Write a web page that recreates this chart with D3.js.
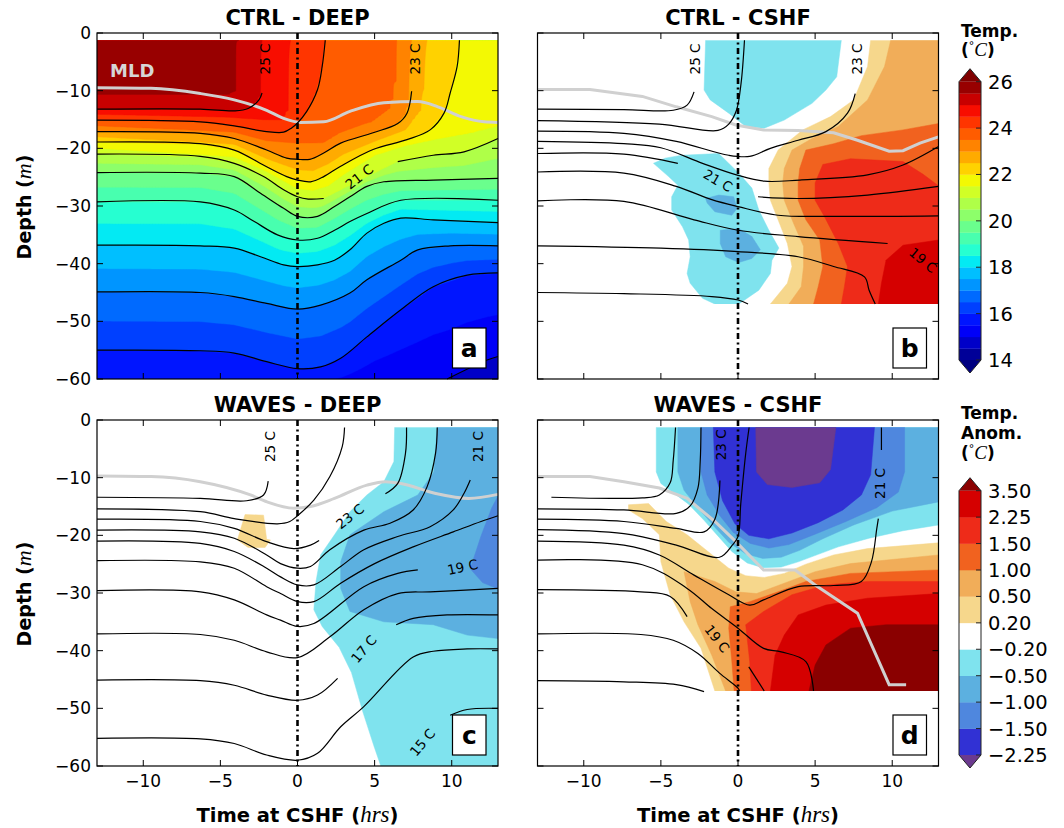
<!DOCTYPE html>
<html>
<head>
<meta charset="utf-8">
<script src="https://cdn.jsdelivr.net/npm/d3@7"></script>
<style>
  body { margin: 0; background: #fff; }
  svg text { font-family: "DejaVu Sans", sans-serif; }
</style>
</head>
<body>
<svg width="1064" height="828"></svg>
<script>
// ---------- axes ----------
var xTicks = [-10, -5, 0, 5, 10];
var yTicks = [0, -10, -20, -30, -40, -50, -60];

// ---------- colour levels ----------
var tempLevels = [14, 14.5, 15, 15.5, 16, 16.5, 17, 17.5, 18, 18.5, 19, 19.5, 20, 20.5,
                  21, 21.5, 22, 22.5, 23, 23.5, 24, 24.5, 25, 25.5, 26];
var tempTicks = [14, 16, 18, 20, 22, 24, 26];
var anomLevels = [-2.25, -1.5, -1, -0.5, -0.2, 0.2, 0.5, 1, 1.5, 2.25, 3.5];
var anomColors = ["#6b3a8f", "#3131d4", "#4f87de", "#5cb0e0", "#7fe3ee", "#ffffff",
                  "#f6d78c", "#f1ad59", "#f1621f", "#ee2b19", "#d50000", "#8a0000"];

// ---------- panel a : CTRL - DEEP (temperature, isotherms as [time, depth]) ----------
var a_iso25 = [[[-13,-13.2],[-6.3,-13.2],[-4.1,-13.5],[-3.2,-13.1],[-2.5,-11.6],[-2.3,-10.4]]];
var a_iso24 = [[[-13,-15.1],[-6.3,-15.4],[-4.1,-16.1],[-2,-17.1],[-0.9,-17.2],[-0.4,-16.5],[0,-15.6],[0.6,-13.6],[1.3,-9.8],[1.6,-5.8],[1.8,-1.25]]];
var a_iso23 = [[[-13,-17.1],[-6.3,-17.4],[-4.1,-18.3],[-2,-20.3],[-0.7,-21.7],[0,-21.9],[0.8,-21.9],[1.7,-20.8],[2.8,-19.1],[4.9,-17.3],[6.5,-15.7],[7.1,-13.9],[7.4,-10.1]]];
var a_iso22 = [[[-13,-18.9],[-6.3,-19.2],[-4.1,-20.3],[-2,-23.2],[-0.7,-24.9],[0,-25.5],[0.85,-25.8],[1.7,-24.9],[2.8,-23.1],[4.9,-20.2],[7.1,-18.5],[8.6,-16.8],[9.5,-13.9],[9.9,-10.4],[10.35,-5.8],[10.5,-1.25]]];
var a_iso21 = [[[-13,-21],[-6.3,-21.4],[-4.1,-22.6],[-2.2,-24.9],[-0.9,-27.2],[0,-28.4],[0.7,-28.8],[1.7,-28.7]],
               [[6.5,-22.3],[8.8,-21.2],[10.8,-20.6],[13,-18.3]]];
var a_iso20 = [[[-13,-24.2],[-6.3,-24.3],[-4.1,-24.9],[-2.4,-27.8],[-0.9,-30.4],[0,-31.8],[1.3,-31.8],[2.4,-30.1],[3.4,-28.4],[4.5,-26.6],[5.6,-25.8],[8.8,-25.5],[13,-25.2]]];
var a_iso19 = [[[-13,-29.3],[-6.3,-29.3],[-4.1,-30.7],[-2.8,-32.7],[-1.3,-35],[0,-35.9],[1.3,-35.6],[2.4,-34.2],[3.4,-32.7],[4.5,-31.3],[6.7,-29],[13,-29]]];
var a_iso18 = [[[-13,-36.8],[-6.3,-36.9],[-4.1,-37.3],[-2.4,-38.8],[-0.9,-40.2],[0,-40.5],[1.3,-40.2],[2.4,-39.4],[3.4,-37.6],[4.5,-34.7],[5.6,-33],[6.7,-32.1],[8.8,-32.4],[13,-32.9]]];
var a_iso17 = [[[-13,-44.9],[-6.3,-45],[-4.1,-45.7],[-2,-46.9],[0,-47.9],[1.5,-47.2],[3.4,-45.1],[4.5,-42.8],[6.7,-39.4],[7.8,-37.6],[9.9,-36.9],[13,-36.9]]];
var a_iso16 = [[[-13,-55],[-6.3,-55.1],[-4.1,-55.5],[-2,-57],[0,-58.2],[1.5,-57.9],[2.8,-56.4],[4.5,-52.7],[6.7,-48],[8.8,-44],[11,-42],[13,-41.6]]];
var a_iso15 = [[[9.7,-60],[12.3,-56.7],[13,-56.1]]];
// half-degree band edges read from the shading
var a_iso25_5 = [[[-13,-10.7],[-4.5,-10.8],[-3.9,-10.0],[-3.8,-6],[-3.8,-1.25]]];
var a_iso24_5 = [[[-13,-14.1],[-4.5,-14.6],[-2.5,-15.0],[-1.0,-15.2],[-0.6,-13.5],[-0.45,-8],[-0.45,-1.25]]];
var a_iso23_5 = [[[-13,-16.1],[-4.1,-17.2],[-2,-18.7],[0,-19.1],[1.7,-19.1],[2.8,-17.3],[4.95,-15.3],[6.1,-13],[6.5,-6.9],[6.5,-1.25]]];
var a_iso22_5 = [[[-13,-18],[-4.1,-19.3],[-2,-21.8],[0,-23.7],[1,-23.9],[2,-22.7],[3,-21],[5,-18.8],[7,-16.8],[8,-13.5],[8.4,-6],[8.4,-1.25]]];
var a_iso21_5 = [[[-13,-20],[-4.1,-21.5],[-2,-24],[0,-27],[1,-27.3],[2,-26.5],[3,-24.5],[5,-21.2],[7,-19.5],[9,-18.4],[11,-17.5],[13,-16.2]]];
var a_sstTime = [-13, -3.8, -2.3, -0.45, 1.8, 6.5, 7.4, 8.4, 10.5, 13];
var a_sstTemp = [25.7, 25.5, 25.0, 24.5, 24.0, 23.5, 23.0, 22.5, 22.0, 21.7];
var a_botTime = [-13, 0, 5, 9.7, 13];
var a_botTemp = [15.5, 15.8, 15.2, 15.0, 14.7];
var a_mld = [[-13,-9.5],[-9.5,-9.6],[-6.3,-10.5],[-4.1,-11.6],[-2,-13.4],[-0.9,-14.8],[0.2,-15.5],[1.7,-15.4],[3.4,-13.6],[5.6,-12.1],[7.8,-11.9],[9.1,-12.8],[10.6,-14.5],[12.1,-15.4],[13,-15.5]];
var a_labels = [["25 C",-2.1,-4.5,-90],["23 C",7.65,-4.5,-90],["21 C",4.0,-24.9,-38]];

// ---------- panel b : CTRL - CSHF ----------
var b_iso25 = [[[-13,-13.2],[-7.4,-13.3],[-4.2,-13.4],[-3.3,-12.5],[-2.85,-10.2]]];
var b_iso24 = [[[-13,-15.2],[-5.1,-15.8],[-1.3,-16.9],[-0.6,-15.8],[-0.1,-13.4],[0.2,-8.7],[0.42,-1.25]]];
var b_iso23 = [[[-13,-17],[-7.4,-17.4],[-4,-18.8],[-0.6,-21.2],[0.76,-21.4],[2.1,-20],[3.9,-18.6],[5.7,-17.1],[7.1,-13.9],[7.6,-10.5]]];
var b_iso22 = [[[-13,-18.8],[-7.4,-19.2],[-5,-19.9],[-2.3,-22.6],[-0.1,-24.6],[1.7,-25.7],[4,-25.5],[8.4,-24.6],[10.7,-22.9],[13,-19.7]]];
var b_iso21 = [[[-13,-20.9],[-7.4,-21],[-3.9,-22.6]], [[1.3,-28.4],[3.9,-28.7],[8.4,-28.1],[13,-26.6]]];
var b_iso20 = [[[-13,-24.1],[-7.4,-24.3],[-4,-26.6],[-1.7,-28.9],[0,-30.1],[2.6,-31.6],[6.2,-31.8],[13,-31.7]]];
var b_iso19 = [[[-13,-29.1],[-7.4,-29.2],[-2.85,-32.4],[0,-34.2],[3.9,-35.3],[9.7,-36.5]]];
var b_iso18 = [[[-13,-36.9],[-5,-37.3],[0,-37.9],[3.9,-38.8],[6.2,-40.5],[8.2,-42.3],[8.5,-44.6],[8.9,-47]]];
var b_iso17 = [[[-13,-45],[-7.4,-45.2],[-1.7,-45.7],[0,-46.3],[0.65,-47]]];
var b_labels = [["25 C",-2.75,-4.5,-90],["23 C",7.7,-4.5,-90],["21 C",-1.3,-25.6,30],["19 C",12.0,-39.4,40]];
var b_mld = [[-13,-9.8],[-9.6,-9.8],[-6.2,-11.0],[-4.0,-12.8],[-1.7,-14.5],[-0.14,-15.95],[1.66,-16.8],[3.9,-16.9],[6.2,-17.3],[7.75,-18.6],[9.8,-20.5],[10.7,-20.4],[11.8,-19.1],[13,-18]];
// anomaly contour outlines [time, depth]
var b_cold02a = [[-2.1,-1.25],[-2.2,-9.9],[-1.8,-11.6],[-0.6,-13.9],[0.5,-16.2],[1.7,-16.5],[3.0,-15.1],[4.8,-12.2],[5.7,-9.9],[6.4,-7.6],[6.7,-1.25]];
var b_cold02b = [[-5.48,-22.6],[-4.72,-21.7],[-3.64,-21.2],[-1.25,-20.9],[0.05,-24.3],[0.9,-26.9],[1.35,-30.7],[2.0,-34.2],[2.65,-37.3],[2.2,-39.4],[2.1,-41.7],[1.35,-44.6],[0.05,-47],[-1.5,-47],[-2.3,-46],[-3.1,-43.4],[-3.3,-41.7],[-3.1,-38.8],[-3.2,-35.9],[-3.6,-33.6],[-4.3,-30.7],[-4.3,-28.4],[-3.9,-26.4],[-4.5,-24.9]];
var b_cold05a = [[-2.1,-28.7],[-1.25,-28.1],[-0.28,-28.4],[-0.06,-30.4],[-0.4,-31.6],[-1.5,-31.0],[-2.0,-29.5]];
var b_cold05b = [[-1.15,-34.2],[0.05,-33.9],[0.9,-35.3],[1.45,-37.6],[0.9,-39.1],[0.05,-39.8],[-0.8,-38.8],[-1.15,-36.5]];
var b_warm02 = [[8.6,-1.25],[8.4,-5.8],[7.5,-11.6],[6.0,-14.5],[4.2,-16.8],[2.6,-20.3],[2.0,-23.5],[2.0,-26],[2.1,-29],[2.6,-32.4],[3.2,-36.5],[3.5,-40.5],[3.2,-43.4],[2.1,-47],[13,-47],[13,-1.25]];
var b_warm05 = [[9.9,-1.25],[9.5,-5.8],[8.4,-11.6],[6.5,-16.2],[4.8,-18.3],[3.5,-20.3],[3.0,-23.5],[2.9,-26],[3.0,-29],[3.6,-33],[4.25,-37],[4.25,-40.5],[4.1,-44],[3.3,-47],[13,-47],[13,-1.25]];
var b_warm10 = [[13,-15.7],[10.7,-16.8],[8.0,-17.8],[6.2,-19.2],[4.4,-20.3],[4.0,-23.5],[3.9,-26],[3.9,-29],[4.4,-32.4],[5.3,-35.9],[5.5,-40.5],[5.2,-44],[4.9,-47],[13,-47]];
var b_warm15 = [[5.5,-22.8],[7.3,-21.8],[10.7,-22.3],[12.0,-24.5],[13,-26.5],[13,-47],[6.7,-47],[6.9,-44],[7.1,-40.5],[6.5,-36.5],[5.6,-31.8],[5.0,-29],[5.0,-26]];
var b_warm225 = [[13,-35.9],[10.7,-36.8],[9.6,-39.4],[9.3,-43.4],[9.1,-47],[13,-47]];

// ---------- panel c : WAVES - DEEP ----------
var c_iso25 = [[[-13,-13.4],[-6.3,-13.6],[-3.3,-14.0],[-2.2,-13.0],[-1.9,-10.6]]];
var c_iso24 = [[[-13,-15.4],[-6.3,-15.9],[-4.1,-17.1],[-1.3,-18.0],[-0.5,-17.6],[0,-16.6],[1.06,-13.9],[2.1,-9.8],[2.9,-4.6],[3.05,-1.3]]];
var c_iso23 = [[[-13,-17.2],[-6.3,-17.6],[-4.1,-18.8],[-2.0,-21.1],[-0.24,-22.3],[0.84,-21.7],[1.4,-20.9]],
               [[5.7,-12.8],[6.5,-11],[7.0,-5.8],[7.07,-1.3]]];
var c_iso22 = [[[-13,-19.1],[-6.3,-19.4],[-4.1,-20.5],[-2.0,-23.4],[-1.1,-24.9],[0,-25.7],[0.84,-25.4],[2.1,-22.5],[4.3,-19.1],[6.0,-17.9],[7.5,-15.6],[8.4,-11.6],[8.95,-5.8],[9.06,-1.3]]];
var c_iso21 = [[[-13,-21],[-6.3,-21.4],[-4.1,-22.8],[-2,-25.7],[-1.1,-27.2],[0,-28.6],[1.06,-28.6],[2.8,-25.4],[4.3,-22.5],[6.5,-20.2],[8.6,-18.5],[10.1,-15.6],[10.8,-12.7],[11.2,-10.4]]];
var c_iso20 = [[[-13,-24.4],[-6.3,-24.6],[-4.1,-25.7],[-2,-28.9],[-1.1,-30.1],[0,-31.5],[1.06,-31.5],[2.8,-28.3],[5.0,-24.9],[7.5,-22],[10.1,-19.4],[11.9,-17.6],[13,-16.6]]];
var c_iso19 = [[[-13,-29.6],[-6.3,-29.8],[-4.1,-31.2],[-2,-33.8],[-1.1,-34.7],[0,-35.8],[1.06,-35.3],[4.3,-28.9],[6.5,-26.6],[7.8,-26]]];
var c_iso18 = [[[-13,-37.1],[-6.3,-37.2],[-4.1,-38.2],[-2,-40.2],[0,-41.2],[2.1,-37.6],[4.3,-32.9],[6.5,-30.1],[8.6,-29.8],[13,-29.2]]];
var c_iso17 = [[[-13,-45.1],[-6.3,-45.2],[-4.1,-46],[-2.0,-47.7],[0,-48.6],[1.3,-47.7],[2.6,-44.8]],
               [[6.4,-35.5],[7.5,-34.4],[9.7,-33.8],[13,-33.8]]];
var c_iso16 = [[[-13,-55.2],[-6.3,-55.3],[-4.1,-56.1],[-2,-58.1],[0,-59],[1.3,-57.8],[2.8,-53.2],[4.3,-49.7],[7.5,-41.1],[8.8,-40.1],[11,-39.7],[13,-39.7]]];
var c_iso15 = [[[9.9,-51.2],[11,-50.2],[13,-50.0]]];
var c_labels = [["25 C",-1.75,-4.6,-90],["23 C",3.4,-16.7,-38],["21 C",11.7,-4.6,-90],["19 C",10.7,-25.5,-12],["17 C",4.3,-39.7,-50],["15 C",8.1,-55.9,-50]];
var c_mld = [[-13,-9.7],[-9.5,-9.8],[-6.3,-10.7],[-3.05,-13],[-1.97,-14.2],[-0.24,-15.3],[0.84,-15],[2.4,-13.6],[4.5,-11.3],[5.7,-10.7],[6.7,-11],[8.9,-12.7],[11.1,-13.6],[13,-12.9]];
var c_cold02 = [[6.3,-1.25],[6.25,-7.2],[5.6,-10.7],[4.5,-13],[3.4,-15.9],[2.4,-19.9],[1.5,-23.4],[1.2,-28],[1.06,-32.9],[1.6,-35.8],[2.7,-39.4],[3.5,-43.8],[4.2,-50.3],[4.95,-56.5],[5.4,-60],[13,-60],[13,-1.25]];
var c_cold05 = [[9.06,-1.25],[8.84,-9],[7.8,-13],[5.6,-15.9],[3.4,-19.9],[2.8,-24.6],[2.8,-29.2],[3.4,-33.2],[5.6,-35],[8.8,-35.5],[11,-37.3],[13,-37.9],[13,-1.25]];
var c_cold10 = [[13,-13.2],[12.6,-15.2],[11.9,-20.1],[11.2,-25.8],[12.0,-28.2],[13,-29.3]];
var c_warm02 = [[-3.4,-16.4],[-2.2,-16.5],[-2.0,-20.7],[-1.75,-20.8],[-2.1,-22.1],[-3.2,-22.1],[-3.9,-20.8]];

// ---------- panel d : WAVES - CSHF ----------
var d_iso25 = [[[-12.1,-13.4],[-6.2,-13.5],[-5.1,-13.0],[-4.4,-10.9],[-4.2,-7],[-4.05,-1.3]]];
var d_iso24 = [[[-13,-15.4],[-7.4,-15.6],[-4.0,-16.2],[-3.1,-14.9],[-2.6,-11.8],[-2.45,-7.2],[-2.4,-1.3]]];
var d_iso23 = [[[-13,-17.2],[-7.4,-17.6],[-4,-18.8],[-2.2,-19.4],[-1.5,-17.2],[-1.17,-10.5]]];
var d_iso22 = [[[-13,-19],[-7.4,-19.7],[-4.0,-21.7],[-1.2,-23.8],[-0.37,-21.7],[0,-20.2],[0.18,-14.5],[0.5,-5.8],[0.72,-1.3]]];
var d_iso21 = [[[-13,-21],[-7.4,-21.7],[-5.1,-23.4],[-2.85,-26.9],[-0.6,-30.3],[0.76,-32.1],[1.66,-31.2],[3.9,-28.9],[6.2,-28.7],[8.0,-28.0],[8.65,-24.6],[9.0,-18.8],[9.1,-17.1]],
               [[9.3,-5.2],[9.3,-1.3]]];
var d_iso20 = [[[-13,-24.3],[-6.2,-25.1],[-3.3,-29.2],[-1.7,-32.7],[0,-36.1],[1.66,-39.6],[2.8,-40.2],[4.4,-41.9],[4.9,-47]]];
var d_iso19 = [[[-13,-29.4],[-6.3,-29.8],[-4.4,-30.6],[-3.3,-34.1]], [[0.7,-42.8],[1.7,-47]]];
var d_iso18 = [[[-13,-37.1],[-6.3,-37.2],[-4.2,-38.2],[-2.6,-40.5],[-1.2,-43.9],[0,-46.5],[0.1,-47]]];
var d_iso17 = [[[-13,-45.2],[-7.4,-45.4],[-4.0,-45.9],[-2.2,-47.1]]];
var d_labels = [["23 C",-1.1,-4.3,-90],["21 C",9.2,-11,-90],["19 C",-1.35,-37.9,52]];
var d_mld = [[-13,-9.8],[-9.6,-9.8],[-7.4,-10.7],[-5.1,-11.8],[-3.3,-13.6],[-1.5,-17.6],[-0.14,-21.1],[1.66,-26],[3.7,-26],[5.0,-28.6],[7.75,-33.5],[9.8,-45.9],[10.9,-45.9]];
var d_cold02 = [[-5.3,-1.25],[-5.3,-9],[-5.0,-11],[-4.2,-12.6],[-3.2,-14.6],[-2.2,-17.4],[-1.2,-20.4],[-0.4,-22.8],[0.6,-24.8],[1.6,-25.6],[2.8,-25.5],[3.9,-24.6],[5.2,-23.3],[6.5,-22],[8.5,-20.5],[10.7,-19.2],[13,-18.2],[13,-1.25]];
var d_cold05 = [[-3.9,-1.25],[-3.9,-9],[-3.5,-12.2],[-2.6,-15.2],[-1.5,-18.6],[-0.6,-21.2],[0.5,-23.2],[1.6,-24.0],[2.8,-23.8],[4.0,-22.6],[5.5,-20.6],[7.5,-18.2],[10,-15.8],[13,-14.2],[13,-1.25]];
var d_cold10 = [[-2.4,-1.25],[-2.4,-9],[-2.0,-13],[-1.2,-16.5],[-0.3,-19.5],[0.8,-21.4],[2.0,-22.2],[3.3,-21.6],[5.0,-19.8],[7.0,-17.6],[9.0,-15.2],[10.4,-12.5],[10.8,-9],[10.8,-1.25]];
var d_cold15 = [[-1.6,-1.25],[-1.5,-9],[-1.0,-14],[-0.2,-18],[0.7,-20.0],[2.0,-20.6],[3.5,-19.6],[5.2,-17.8],[6.8,-15.6],[8.0,-13],[8.6,-9.5],[8.85,-1.25]];
var d_cold225 = [[1.15,-1.25],[1.2,-9],[1.9,-11.2],[3.5,-11.7],[5.3,-10.9],[6.0,-8.6],[6.35,-1.25]];
var d_warm02 = [[-7.1,-14.7],[-5.8,-14.5],[-4.65,-17.6],[-3.3,-19.9],[-1.95,-22.8],[-0.6,-25.7],[0.5,-27.0],[1.7,-27.3],[3.0,-26.6],[4.4,-25],[6.2,-23.4],[8.4,-22.3],[13,-21.3],[13,-47],[-1.5,-47],[-2.4,-39.6],[-3.5,-35],[-4.4,-30.3],[-5.0,-24.6],[-5.1,-19.9],[-6.2,-17.1],[-7.1,-15.6]];
var d_warm05 = [[-3.5,-26.3],[-1.5,-28],[-0.14,-29.8],[1.2,-30.1],[3.0,-28.3],[5.0,-26.3],[7.3,-24.9],[13,-23.4],[13,-47],[-0.8,-47],[-1.7,-40.8],[-2.6,-35.5],[-3.1,-31.5]];
var d_warm10 = [[-0.5,-32.4],[0.76,-31.5],[2.6,-29.8],[4.4,-28],[7.3,-26.6],[13,-26],[13,-47],[-0.25,-47],[-0.4,-41.9],[-0.6,-36.1]];
var d_warm15 = [[0.5,-35.5],[1.66,-33.2],[3.5,-30.3],[5.7,-28.6],[8.4,-28],[13,-28],[13,-47],[0.87,-47],[0.76,-41.9]];
var d_warm225 = [[2.4,-40.8],[3.0,-37.3],[3.9,-33.8],[5.7,-32.1],[8.4,-30.9],[13,-30.1],[13,-47],[2.1,-47]];
var d_warm35 = [[4.6,-47],[5.0,-42.5],[5.7,-39],[7.3,-36.1],[9.6,-35.5],[13,-35.5],[13,-47]];

// ---------- helpers ----------
var svg = d3.select("svg");
var PW = 401, PH = 346, DATA_TOP = -1.25;
var fmtTick = d3.format("d"), fmtAnom = d3.format(".2f");

function jetChannel(stops, v) {
  for (var i = 0; i < stops.length - 1; i++) {
    if (v <= stops[i + 1][0]) {
      return stops[i][1] + (stops[i + 1][1] - stops[i][1]) * (v - stops[i][0]) / (stops[i + 1][0] - stops[i][0]);
    }
  }
  return stops[stops.length - 1][1];
}
function jet(v) {
  v = Math.max(0, Math.min(1, v));
  var r = jetChannel([[0,0],[0.35,0],[0.66,1],[0.89,1],[1,0.5]], v);
  var g = jetChannel([[0,0],[0.125,0],[0.375,1],[0.64,1],[0.91,0],[1,0]], v);
  var b = jetChannel([[0,0.5],[0.11,1],[0.34,1],[0.65,0],[1,0]], v);
  return d3.rgb(r * 255, g * 255, b * 255).formatHex();
}
var tLo = tempLevels[0], tHi = tempLevels[tempLevels.length - 1];
var tempColors = [jet(0)];
for (var k = 0; k < tempLevels.length - 1; k++) {
  tempColors.push(jet(((tempLevels[k] + tempLevels[k + 1]) / 2 - tLo) / (tHi - tLo)));
}
tempColors.push(jet(1));

function anomColor(level) {
  var i = anomLevels.indexOf(level);
  return level < 0 ? anomColors[i] : anomColors[i + 1];
}

function depthAt(segs, t) {
  var pts = [].concat.apply([], segs);
  if (t < pts[0][0] || t > pts[pts.length - 1][0]) return null;
  for (var i = 0; i < pts.length - 1; i++) {
    var p = pts[i], q = pts[i + 1];
    if (t >= p[0] && t <= q[0]) {
      if (q[0] === p[0]) return p[1];
      return p[1] + (q[1] - p[1]) * (t - p[0]) / (q[0] - p[0]);
    }
  }
  return null;
}

function makePanel(id, left, top, bottom) {
  var x = d3.scaleLinear().domain([-13, 13]).range([left, left + PW]);
  var y = d3.scaleLinear().domain([0, -60]).range([top, top + PH]);
  var g = svg.append("g").attr("class", "panel-" + id);
  svg.append("clipPath").attr("id", "clip-" + id).append("rect")
    .attr("x", x(-13)).attr("y", y(DATA_TOP))
    .attr("width", x(13) - x(-13)).attr("height", y(bottom) - y(DATA_TOP));
  var fills = g.append("g").attr("clip-path", "url(#clip-" + id + ")");
  return {id: id, x: x, y: y, g: g, fills: fills, left: left, top: top, bottom: bottom};
}

function drawRegions(p, regions) {
  var poly = d3.line().x(function(d) { return p.x(d[0]); }).y(function(d) { return p.y(d[1]); })
    .curve(d3.curveLinearClosed);
  regions.slice().sort(function(a, b) { return Math.abs(a[1]) - Math.abs(b[1]); })
    .forEach(function(r) {
      p.fills.append("path").attr("d", poly(r[0]))
        .attr("fill", anomColor(r[1])).attr("stroke", anomColor(r[1])).attr("stroke-width", 0.5);
    });
}

function drawDetails(p, mld, mldCurve, isos, labels, letter) {
  var line = d3.line().x(function(d) { return p.x(d[0]); }).y(function(d) { return p.y(d[1]); });
  p.g.append("path").attr("d", line.curve(mldCurve)(mld))
    .attr("fill", "none").attr("stroke", "#d0d0d0").attr("stroke-width", 3);
  var iso = d3.line().x(function(d) { return p.x(d[0]); }).y(function(d) { return p.y(d[1]); })
    .curve(d3.curveCatmullRom.alpha(0.5));
  isos.forEach(function(segs) {
    segs.forEach(function(s) {
      p.g.append("path").attr("d", iso(s)).attr("fill", "none")
        .attr("stroke", "#000").attr("stroke-width", 1.2);
    });
  });
  labels.forEach(function(l) {
    p.g.append("text")
      .attr("transform", "translate(" + p.x(l[1]) + "," + p.y(l[2]) + ") rotate(" + l[3] + ")")
      .attr("text-anchor", "middle").attr("dy", "0.36em")
      .style("font-size", "13.5px").text(l[0]);
  });
  // zero line
  p.g.append("line").attr("x1", p.x(0)).attr("x2", p.x(0)).attr("y1", p.y(0)).attr("y2", p.y(-60))
    .attr("stroke", "#000").attr("stroke-width", 2.6).attr("stroke-dasharray", "6,3.5,2,3.5");
  // frame + inward ticks on all sides
  var x0 = p.x(-13), x1 = p.x(13), y0 = p.y(0), y1 = p.y(-60), tl = 6;
  xTicks.forEach(function(t) {
    p.g.append("line").attr("x1", p.x(t)).attr("x2", p.x(t)).attr("y1", y0).attr("y2", y0 + tl).attr("stroke", "#000");
    p.g.append("line").attr("x1", p.x(t)).attr("x2", p.x(t)).attr("y1", y1).attr("y2", y1 - tl).attr("stroke", "#000");
  });
  yTicks.forEach(function(z) {
    p.g.append("line").attr("x1", x0).attr("x2", x0 + tl).attr("y1", p.y(z)).attr("y2", p.y(z)).attr("stroke", "#000");
    p.g.append("line").attr("x1", x1).attr("x2", x1 - tl).attr("y1", p.y(z)).attr("y2", p.y(z)).attr("stroke", "#000");
  });
  p.g.append("rect").attr("x", x0).attr("y", y0).attr("width", x1 - x0).attr("height", y1 - y0)
    .attr("fill", "none").attr("stroke", "#000").attr("stroke-width", 1.2);
  // panel letter
  p.g.append("rect").attr("x", x1 - 45.5).attr("y", y1 - 51).attr("width", 33.5).attr("height", 40)
    .attr("fill", "#fff").attr("stroke", "#000").attr("stroke-width", 1.2);
  p.g.append("text").attr("x", x1 - 28.7).attr("y", y1 - 31).attr("dy", "0.36em")
    .attr("text-anchor", "middle").style("font-size", "25px").style("font-weight", "bold").text(letter);
}

function axesText(p, title, showY, showX) {
  p.g.append("text").attr("x", p.x(0)).attr("y", p.top - 8).attr("text-anchor", "middle")
    .style("font-size", "21px").style("font-weight", "bold").text(title);
  if (showY) {
    yTicks.forEach(function(z) {
      p.g.append("text").attr("x", p.left - 6).attr("y", p.y(z)).attr("dy", "0.36em")
        .attr("text-anchor", "end").style("font-size", "17px").text(fmtTick(z));
    });
    var yl = p.g.append("text").attr("transform", "translate(24," + (p.top + 174) + ") rotate(-90)")
      .attr("text-anchor", "middle").attr("dy", "0.36em").style("font-size", "19px").style("font-weight", "bold");
    yl.append("tspan").text("Depth (");
    yl.append("tspan").style("font-family", "'Liberation Serif', serif").style("font-style", "italic")
      .style("font-weight", "normal").style("font-size", "22px").text("m");
    yl.append("tspan").text(")");
  }
  if (showX) {
    xTicks.forEach(function(t) {
      p.g.append("text").attr("x", p.x(t)).attr("y", p.y(-60) + 21).attr("text-anchor", "middle")
        .style("font-size", "17px").text(fmtTick(t));
    });
    var xl = p.g.append("text").attr("x", p.x(0)).attr("y", 822).attr("text-anchor", "middle")
      .style("font-size", "19.5px").style("font-weight", "bold");
    xl.append("tspan").text("Time at CSHF (");
    xl.append("tspan").style("font-family", "'Liberation Serif', serif").style("font-style", "italic")
      .style("font-weight", "normal").style("font-size", "23px").text("hrs");
    xl.append("tspan").text(")");
  }
}

// ---------- panel a ----------
var pa = makePanel("a", 97, 33, -60);
(function() {
  var isoTable = [
    [25.5, a_iso25_5], [25, a_iso25], [24.5, a_iso24_5], [24, a_iso24], [23.5, a_iso23_5],
    [23, a_iso23], [22.5, a_iso22_5], [22, a_iso22], [21.5, a_iso21_5], [21, a_iso21],
    [20, a_iso20], [19, a_iso19], [18, a_iso18], [17, a_iso17], [16, a_iso16], [15, a_iso15]
  ];
  var sst = d3.scaleLinear().domain(a_sstTime).range(a_sstTemp).clamp(true);
  var bot = d3.scaleLinear().domain(a_botTime).range(a_botTemp).clamp(true);
  var nx = 131, ny = 295, dt = 26 / (nx - 1), dz = (60 + DATA_TOP) / (ny - 1);
  var values = new Float64Array(nx * ny);
  for (var i = 0; i < nx; i++) {
    var t = -13 + i * dt;
    var nodes = [[DATA_TOP, sst(t)]];
    isoTable.forEach(function(r) {
      var d = depthAt(r[1], t);
      if (d !== null && d < DATA_TOP && d > -60) nodes.push([d, r[0]]);
    });
    nodes.push([-60, bot(t)]);
    nodes.sort(function(a, b) { return b[0] - a[0]; });
    var col = d3.scaleLinear().domain(nodes.map(function(n) { return n[0]; }))
      .range(nodes.map(function(n) { return n[1]; })).clamp(true);
    for (var j = 0; j < ny; j++) values[j * nx + i] = col(DATA_TOP - j * dz);
  }
  var proj = d3.geoTransform({point: function(px, py) {
    var t = Math.max(-13, Math.min(13, -13 + (px - 0.5) * dt));
    var z = Math.min(DATA_TOP, Math.max(-60, DATA_TOP - (py - 0.5) * dz));
    this.stream.point(pa.x(t), pa.y(z));
  }});
  var path = d3.geoPath(proj);
  pa.fills.append("rect").attr("x", pa.x(-13)).attr("y", pa.y(DATA_TOP))
    .attr("width", PW).attr("height", pa.y(-60) - pa.y(DATA_TOP)).attr("fill", tempColors[0]);
  var contours = d3.contours().size([nx, ny]).thresholds(tempLevels)(values);
  contours.forEach(function(c, idx) {
    pa.fills.append("path").attr("d", path(c)).attr("fill", tempColors[idx + 1])
      .attr("stroke", tempColors[idx + 1]).attr("stroke-width", 0.4);
  });
})();
drawDetails(pa, a_mld, d3.curveMonotoneX,
  [a_iso25, a_iso24, a_iso23, a_iso22, a_iso21, a_iso20, a_iso19, a_iso18, a_iso17, a_iso16, a_iso15],
  a_labels, "a");
pa.g.append("text").attr("x", 110).attr("y", 77).style("font-size", "18px").style("font-weight", "bold")
  .attr("fill", "#d6d6d6").text("MLD");
axesText(pa, "CTRL - DEEP", true, false);

// ---------- panel b ----------
var pb = makePanel("b", 537.5, 33, -47);
drawRegions(pb, [[b_cold02a, -0.2], [b_cold02b, -0.2], [b_cold05a, -0.5], [b_cold05b, -0.5],
  [b_warm02, 0.2], [b_warm05, 0.5], [b_warm10, 1], [b_warm15, 1.5], [b_warm225, 2.25]]);
drawDetails(pb, b_mld, d3.curveLinear,
  [b_iso25, b_iso24, b_iso23, b_iso22, b_iso21, b_iso20, b_iso19, b_iso18, b_iso17], b_labels, "b");
axesText(pb, "CTRL - CSHF", false, false);

// ---------- panel c ----------
var pc = makePanel("c", 97, 420, -60);
drawRegions(pc, [[c_cold02, -0.2], [c_cold05, -0.5], [c_cold10, -1], [c_warm02, 0.2]]);
drawDetails(pc, c_mld, d3.curveMonotoneX,
  [c_iso25, c_iso24, c_iso23, c_iso22, c_iso21, c_iso20, c_iso19, c_iso18, c_iso17, c_iso16, c_iso15], c_labels, "c");
axesText(pc, "WAVES - DEEP", true, true);

// ---------- panel d ----------
var pd = makePanel("d", 537.5, 420, -47);
drawRegions(pd, [[d_cold02, -0.2], [d_cold05, -0.5], [d_cold10, -1], [d_cold15, -1.5], [d_cold225, -2.25],
  [d_warm02, 0.2], [d_warm05, 0.5], [d_warm10, 1], [d_warm15, 1.5], [d_warm225, 2.25], [d_warm35, 3.5]]);
drawDetails(pd, d_mld, d3.curveLinear,
  [d_iso25, d_iso24, d_iso23, d_iso22, d_iso21, d_iso20, d_iso19, d_iso18, d_iso17], d_labels, "d");
axesText(pd, "WAVES - CSHF", false, true);

// ---------- colour bars ----------
function colorbar(top, bottom, levels, colors, labelFmt, tickVals, titleLines) {
  var cx = 959, cw = 22, tip = 13;
  var s = d3.scaleLinear().domain([0, levels.length - 1]).range([bottom, top]);
  var g = svg.append("g");
  for (var i = 0; i < levels.length - 1; i++) {
    g.append("rect").attr("x", cx).attr("y", s(i + 1)).attr("width", cw).attr("height", s(i) - s(i + 1) + 0.3)
      .attr("fill", colors[i + 1]);
  }
  g.append("path").attr("d", "M" + cx + "," + top + "L" + (cx + cw / 2) + "," + (top - tip) + "L" + (cx + cw) + "," + top + "Z")
    .attr("fill", colors[colors.length - 1]);
  g.append("path").attr("d", "M" + cx + "," + bottom + "L" + (cx + cw / 2) + "," + (bottom + tip) + "L" + (cx + cw) + "," + bottom + "Z")
    .attr("fill", colors[0]);
  g.append("path").attr("d", "M" + cx + "," + top + "L" + (cx + cw / 2) + "," + (top - tip) + "L" + (cx + cw) + "," + top +
      "L" + (cx + cw) + "," + bottom + "L" + (cx + cw / 2) + "," + (bottom + tip) + "L" + cx + "," + bottom + "Z")
    .attr("fill", "none").attr("stroke", "#222").attr("stroke-width", 1);
  tickVals.forEach(function(v) {
    var yy = s(levels.indexOf(v));
    g.append("line").attr("x1", cx + cw - 5).attr("x2", cx + cw).attr("y1", yy).attr("y2", yy).attr("stroke", "#222");
    g.append("text").attr("x", cx + 29).attr("y", yy).attr("dy", "0.36em").style("font-size", "19.5px").text(labelFmt(v));
  });
  titleLines.forEach(function(tl) {
    var t = g.append("text").attr("x", 961).attr("y", tl[1]).style("font-size", "17px").style("font-weight", "bold");
    if (tl[0] === "unit") {
      t.append("tspan").text("(");
      t.append("tspan").style("font-weight", "normal").style("font-size", "11px").attr("dy", "-7").text("\u00b0");
      t.append("tspan").attr("dy", "7").style("font-family", "'Liberation Serif', serif").style("font-style", "italic")
        .style("font-weight", "normal").style("font-size", "19px").text("C");
      t.append("tspan").text(")");
    } else {
      t.text(tl[0]);
    }
  });
}
colorbar(81.7, 360, tempLevels, tempColors, fmtTick, tempTicks, [["Temp.", 37], ["unit", 56]]);
colorbar(490.7, 755, anomLevels, anomColors, fmtAnom, anomLevels, [["Temp.", 419], ["Anom.", 439], ["unit", 459]]);
</script>
</body>
</html>
